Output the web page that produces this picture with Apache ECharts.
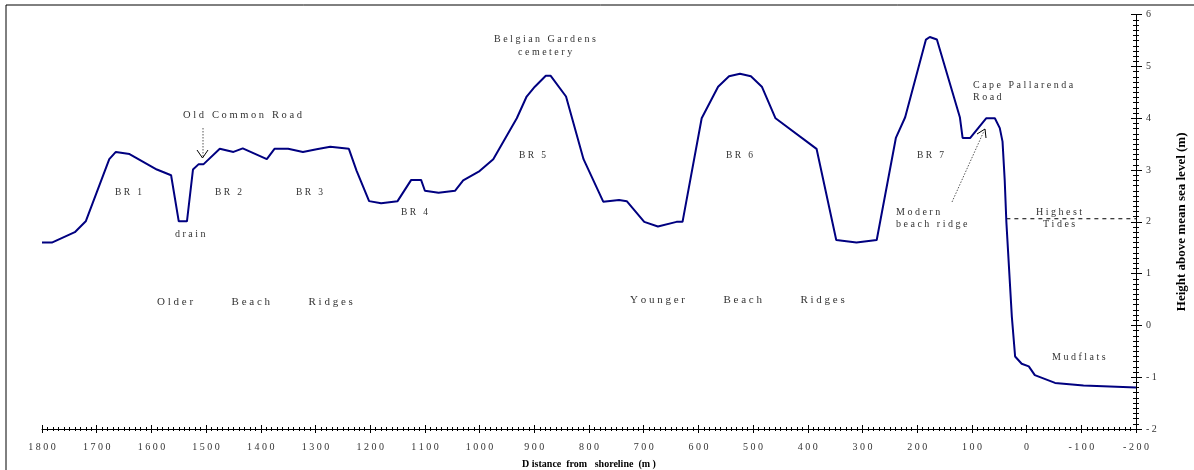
<!DOCTYPE html>
<html>
<head>
<meta charset="utf-8">
<script src="https://cdn.jsdelivr.net/npm/echarts@6/dist/echarts.min.js"></script>
<style>html,body{margin:0;padding:0;background:#fff}#c{width:1194px;height:470px}</style>
</head>
<body>
<div id="c"></div>
<script>
// Distance from shoreline (m)
const distance = [1800,1782,1740,1720,1677,1665,1640,1590,1564,1550,1535,1524,1514,1505,1475,1450,1433,1389,1375,1350,1323,1298,1273,1239,1225,1202,1180,1150,1125,1107,1100,1075,1045,1030,1000,975,932,914,899,879,870,842,810,774,745,731,699,674,640,629,594,564,544,524,504,484,459,384,348,311,274,239,222,184,177,164,122,117,103,74,58,49,44,40,37,27,21,9,-4,-15,-52,-104,-200];
// Height above mean sea level (m)
const height = [1.60,1.60,1.80,2.01,3.21,3.35,3.31,3.01,2.90,2.01,2.01,3.01,3.11,3.11,3.41,3.35,3.42,3.21,3.41,3.41,3.35,3.40,3.45,3.41,2.99,2.40,2.36,2.40,2.81,2.81,2.60,2.56,2.60,2.80,2.98,3.21,4.00,4.42,4.61,4.82,4.82,4.42,3.21,2.39,2.42,2.40,2.00,1.91,2.00,2.00,4.00,4.61,4.81,4.86,4.81,4.61,4.00,3.41,1.65,1.60,1.65,3.62,4.02,5.52,5.57,5.52,4.02,3.62,3.62,4.00,4.00,3.81,3.55,2.80,2.00,0.17,-0.60,-0.74,-0.79,-0.96,-1.11,-1.16,-1.20];
// Highest tides level
const tideDistance = [37,-200];
const tideHeight = [2.06,2.06];
// Axis settings
const xMin = -200, xMax = 1800, xStep = 100;
const yMin = -2, yMax = 6, yStep = 1;

const serif = '"Liberation Serif", "Times New Roman", serif';
const spaced = s => String(s).split('').join(' ');

const chart = echarts.init(document.getElementById('c'));

function txt(x, y, s, size) {
  return {
    type: 'text', x: x, y: y,
    style: { text: s, font: (size || 10) + 'px ' + serif, fill: '#333', textAlign: 'left', textVerticalAlign: 'middle' }
  };
}

const profile = distance.map((d, i) => [d, height[i]]);
const tide = tideDistance.map((d, i) => [d, tideHeight[i]]);

chart.setOption({
  animation: false,
  grid: { left: 42, right: 58, top: 14.7, bottom: 41, containLabel: false, outerBoundsMode: 'none' },
  xAxis: [{
    type: 'value', inverse: true, min: xMin, max: xMax, interval: xStep, position: 'bottom',
    name: 'D istance  from   shoreline  (m )', nameLocation: 'middle', nameGap: 30,
    nameTextStyle: { fontFamily: serif, fontWeight: 'bold', fontSize: 10, color: '#000' },
    axisLine: { onZero: false, lineStyle: { color: '#000', width: 1 } },
    axisTick: { show: true, length: 4, lineStyle: { color: '#000' } },
    minorTick: { show: true, splitNumber: 10, length: 2, lineStyle: { color: '#000' } },
    splitLine: { show: false },
    axisLabel: { formatter: v => spaced(v), fontFamily: serif, fontSize: 10, color: '#333', margin: 13 }
  }, {
    type: 'value', inverse: true, min: xMin, max: xMax, interval: xStep, position: 'bottom',
    axisLine: { show: false, onZero: false },
    axisTick: { show: true, inside: true, length: 4, lineStyle: { color: '#000' } },
    minorTick: { show: true, splitNumber: 10, length: 2, lineStyle: { color: '#000' } },
    splitLine: { show: false }, axisLabel: { show: false }
  }],
  yAxis: [{
    type: 'value', position: 'right', min: yMin, max: yMax, interval: yStep,
    name: 'Height above mean sea level (m)', nameLocation: 'middle', nameGap: 39, nameRotate: 90,
    nameTextStyle: { fontFamily: serif, fontWeight: 'bold', fontSize: 13, color: '#000' },
    axisLine: { show: true, onZero: false, lineStyle: { color: '#000', width: 1 } },
    axisTick: { show: true, length: 6, lineStyle: { color: '#000' } },
    minorTick: { show: true, splitNumber: 10, length: 3, lineStyle: { color: '#000' } },
    splitLine: { show: false },
    axisLabel: { formatter: v => v < 0 ? '- ' + Math.abs(v) : String(v), fontFamily: serif, fontSize: 10, color: '#333', margin: 10 }
  }, {
    type: 'value', position: 'right', min: yMin, max: yMax, interval: yStep,
    axisLine: { show: false, onZero: false },
    axisTick: { show: true, inside: true, length: 5, lineStyle: { color: '#000' } },
    minorTick: { show: true, splitNumber: 10, length: 3, lineStyle: { color: '#000' } },
    splitLine: { show: false }, axisLabel: { show: false }
  }],
  series: [{
    type: 'line', data: profile, showSymbol: false, symbol: 'none',
    lineStyle: { color: '#000080', width: 2 }, z: 3
  }, {
    type: 'line', data: tide, showSymbol: false, symbol: 'none',
    lineStyle: { color: '#000', width: 1, type: [4, 4] }, z: 2
  }],
  graphic: [
    { type: 'rect', shape: { x: 6, y: 5, width: 1300, height: 600 }, style: { fill: 'none', stroke: '#000', lineWidth: 1 }, silent: true },
    txt(183, 115, 'O l d   C o m m o n   R o a d', 10.5),
    { type: 'line', shape: { x1: 203, y1: 128, x2: 203, y2: 157 }, style: { stroke: '#555', lineWidth: 1, lineDash: [1.5, 1.5] } },
    { type: 'polyline', shape: { points: [[197, 150], [202.5, 158], [208, 150]] }, style: { stroke: '#000', lineWidth: 1, fill: 'none' } },
    txt(115, 192, 'B R   1', 9.5),
    txt(215, 192, 'B R   2', 9.5),
    txt(296, 192, 'B R   3', 9.5),
    txt(175, 234, 'd r a i n'),
    txt(401, 212, 'B R   4', 9.5),
    txt(519, 155, 'B R   5', 9.5),
    txt(494, 39, 'B e l g i a n   G a r d e n s'),
    txt(518, 52, 'c e m e t e r y'),
    txt(726, 155, 'B R   6', 9.5),
    txt(917, 155, 'B R   7', 9.5),
    txt(973, 85, 'C a p e   P a l l a r e n d a'),
    txt(973, 97, 'R o a d'),
    txt(896, 212, 'M o d e r n'),
    txt(896, 224, 'b e a c h   r i d g e'),
    { type: 'line', shape: { x1: 952, y1: 202, x2: 984, y2: 131 }, style: { stroke: '#555', lineWidth: 1, lineDash: [1.5, 1.5] } },
    { type: 'polyline', shape: { points: [[977, 134], [985, 129], [986, 138]] }, style: { stroke: '#000', lineWidth: 1, fill: 'none' } },
    txt(1036, 212, 'H i g h e s t'),
    txt(1043, 224, 'T i d e s'),
    txt(1052, 357, 'M u d f l a t s'),
    txt(157, 302, 'O l d e r              B e a c h              R i d g e s', 11),
    txt(630, 300, 'Y o u n g e r              B e a c h              R i d g e s', 11)
  ]
});
</script>
</body>
</html>
